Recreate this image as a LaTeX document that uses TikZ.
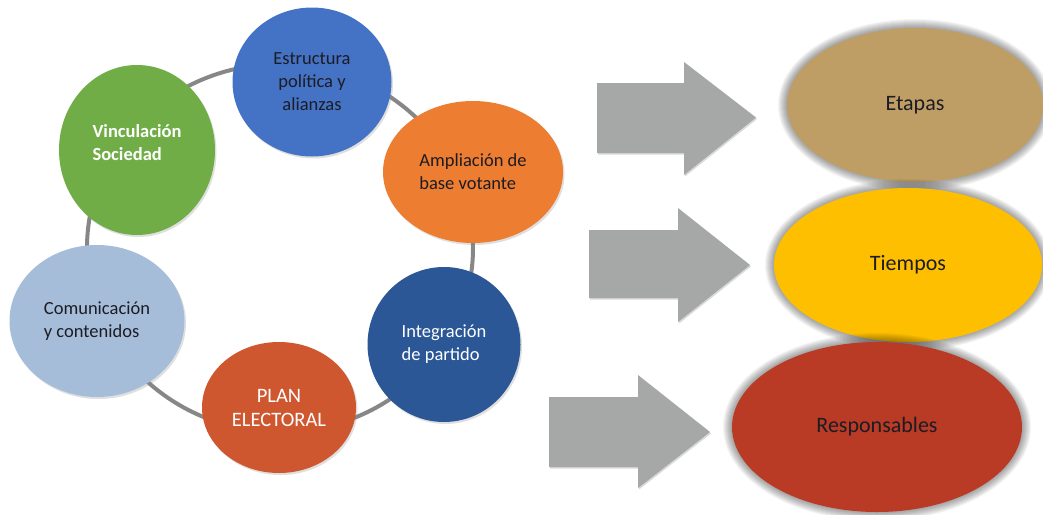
\documentclass[tikz,border=0pt]{standalone}
\usepackage{fontspec}
\setmainfont{Carlito}
\usetikzlibrary{shapes.geometric,shadows}
\definecolor{cblue}{HTML}{4472C4}
\definecolor{cgreen}{HTML}{70AD47}
\definecolor{corange}{HTML}{ED7D31}
\definecolor{clight}{HTML}{A6BDD9}
\definecolor{cred}{HTML}{CF5730}
\definecolor{cnavy}{HTML}{2B5797}
\definecolor{ctan}{HTML}{BF9E66}
\definecolor{cgold}{HTML}{FDBF00}
\definecolor{cbrick}{HTML}{B93A25}
\definecolor{carrow}{HTML}{A5A8A7}
\definecolor{cring}{HTML}{878787}
\definecolor{ctext}{HTML}{1C1C24}
\begin{document}
\begin{tikzpicture}[x=1pt,y=-1pt,
  bubble/.style={ellipse, inner sep=0pt, align=left,
    font=\fontsize{18.5}{23}\selectfont,
    drop shadow={opacity=0.25, shadow xshift=1.5pt, shadow yshift=-2pt}},
  oval/.style={ellipse, inner sep=0pt, text=ctext,
    font=\fontsize{22}{26}\selectfont},
  ringline/.style={draw=cring, line width=4pt},
  blockarrow/.style={fill=carrow,
    drop shadow={opacity=0.3, shadow xshift=1pt, shadow yshift=-1.5pt}}]
\useasboundingbox (0,0) rectangle (1043,514);
\fill[white] (0,0) rectangle (1043,514);

% ring
\draw[ringline] (280,248) ellipse [x radius=193, y radius=184];

% circles
\node[bubble, fill=cblue, text=ctext, align=center, minimum width=159pt, minimum height=149pt] (estr) at (312,82)
  {Estructura\\política y\\alianzas};
\node[bubble, fill=cgreen, text=white, minimum width=156pt, minimum height=170pt,
  font=\fontsize{18.5}{23}\selectfont\bfseries] (vinc) at (137,150)
  {Vinculación\\Sociedad\rule[-14pt]{0pt}{0pt}};
\node[bubble, fill=corange, text=ctext, minimum width=180pt, minimum height=142pt] (ampl) at (473,172)
  {Ampliación de\\base votante};
\node[bubble, fill=clight, text=ctext, minimum width=175pt, minimum height=152pt] (comu) at (97,321)
  {Comunicación\\y contenidos};
\node[bubble, fill=cnavy, text=white, minimum width=153pt, minimum height=155pt] (inte) at (444,344.5)
  {Integración\\de partido};
\node[bubble, fill=cred, text=white, align=center, minimum width=154pt, minimum height=131pt,
  font=\fontsize{20.5}{24}\selectfont] (plan) at (279,407.5)
  {PLAN\\ELECTORAL};

% block arrows
\fill[blockarrow] (597,83) -- (684,83) -- (684,62) -- (756,117.5) -- (684,175) -- (684,153) -- (597,153) -- cycle;
\fill[blockarrow] (589,230) -- (678,230) -- (678,208) -- (750,265) -- (678,322) -- (678,298) -- (589,298) -- cycle;
\fill[blockarrow] (549,397) -- (638,397) -- (638,375) -- (710,432) -- (638,488) -- (638,467) -- (549,467) -- cycle;

% right ovals with glow
\foreach \k in {1,...,9}{
  \fill[black,opacity=0.045] (915,105) ellipse [x radius=128+\k, y radius=77+\k];
}
\node[oval, fill=ctan, minimum width=256pt, minimum height=154pt] (etap) at (915,105) {Etapas};
\foreach \k in {1,...,9}{
  \fill[black,opacity=0.045] (908,265) ellipse [x radius=134+\k, y radius=77+\k];
}
\node[oval, fill=cgold, minimum width=268pt, minimum height=154pt] (tiem) at (908,265) {Tiempos};
\foreach \k in {1,...,9}{
  \fill[black,opacity=0.045] (877,427) ellipse [x radius=145+\k, y radius=85+\k];
}
\node[oval, fill=cbrick, minimum width=290pt, minimum height=170pt] (resp) at (877,427) {Responsables};
\end{tikzpicture}
\end{document}
